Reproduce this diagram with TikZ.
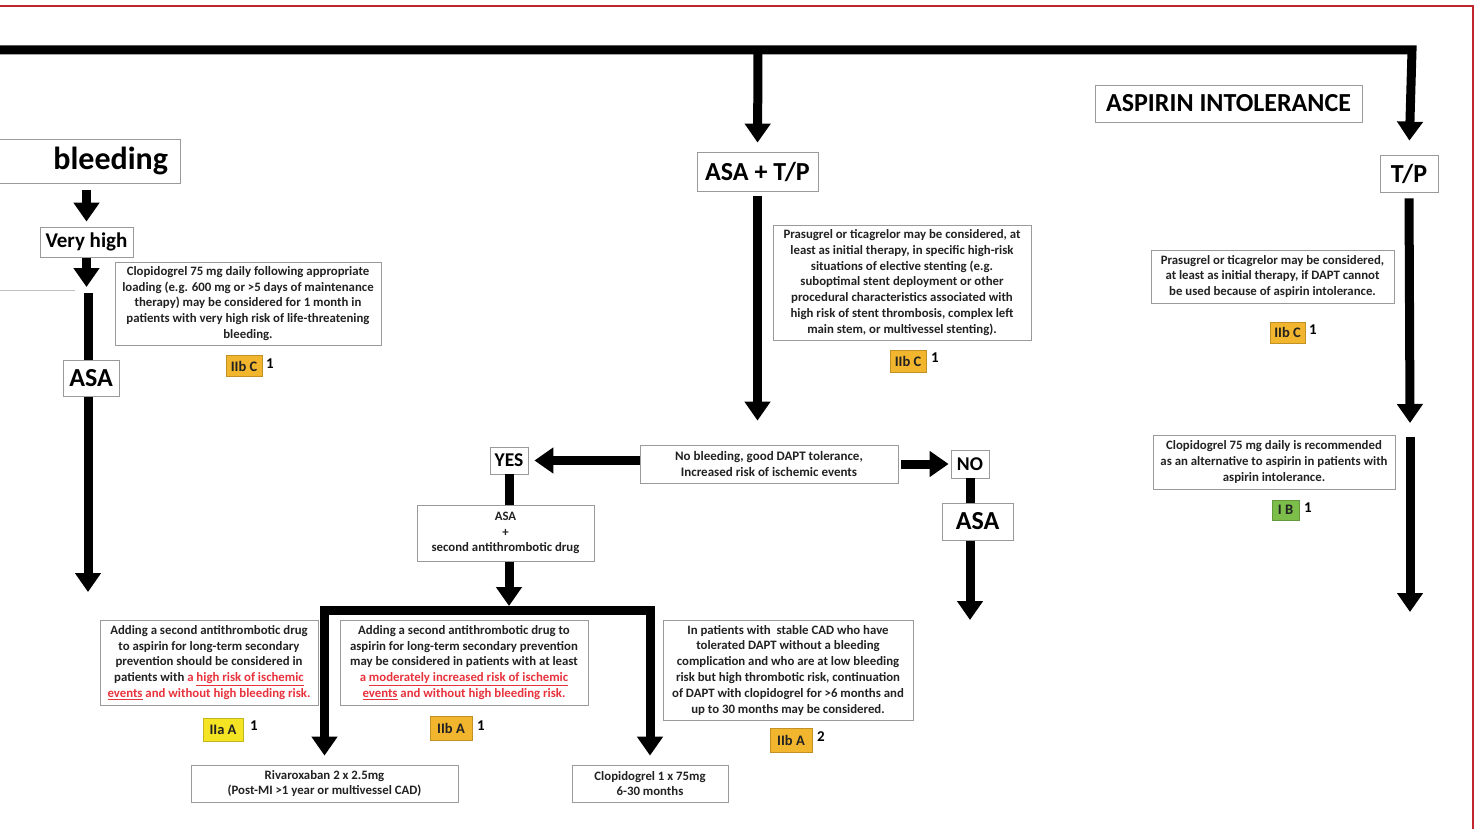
\documentclass[tikz,border=0pt]{standalone}
\usepackage{fontspec}
\setmainfont{Carlito}
\usetikzlibrary{arrows.meta,calc}
\definecolor{boxgray}{HTML}{9A9A9A}
\definecolor{txt}{HTML}{222222}
\definecolor{redtxt}{HTML}{E8333D}
\definecolor{frame}{HTML}{C0272D}
\definecolor{gold}{HTML}{F2B52E}
\definecolor{yel}{HTML}{F4E424}
\definecolor{grn}{HTML}{7DBE4B}
\newcommand{\rd}[1]{\textcolor{redtxt}{#1}}
\tikzset{
  sbox/.style={draw=boxgray, line width=0.8pt, fill=white, align=center, text=txt,
    font=\bfseries\fontsize{12.8}{15.8}\selectfont, inner sep=1pt},
  bbox/.style={draw=boxgray, line width=0.8pt, fill=white, align=center, text=black,
    font=\bfseries\fontsize{26}{30}\selectfont, inner sep=1pt},
  mbox/.style={draw=boxgray, line width=0.8pt, fill=white, align=center, text=black,
    font=\bfseries\fontsize{19.5}{22}\selectfont, inner sep=1pt},
  badge/.style={fill=#1, draw=#1!80!black, line width=0.4pt, text=txt, inner sep=1pt,
    font=\bfseries\fontsize{14.5}{16}\selectfont},
  refnum/.style={text=black, inner sep=0pt, font=\bfseries\fontsize{15}{16}\selectfont},
  arr/.style={line width=9pt, line join=miter, -{Triangle[width=25pt,length=19pt]}},
}
\begin{document}
\begin{tikzpicture}[x=1pt,y=-1pt]
\useasboundingbox (0,0) rectangle (1479,829);
\fill[white] (0,0) rectangle (1479,829);
% red frame
\coordinate (f1) at (0,6);
\coordinate (f2) at (1473,6);
\coordinate (f3) at (1473,829);
\draw[frame, line width=1.5pt] (f1) -- (f2) -- (f3);

% ---------- nodes ----------
\node[bbox, font=\bfseries\fontsize{32}{36}\selectfont, minimum width=190pt, minimum height=44pt,
      text width=178pt, align=right, inner ysep=4pt] (bleed) at (85,161) {bleeding\hspace*{6pt}};
\node[mbox, font=\bfseries\fontsize{21}{24}\selectfont, minimum width=93pt, minimum height=30pt] (vh) at (86.5,242) {Very high};
\node[sbox, minimum width=266pt, minimum height=83pt] (clop1) at (248,303.5) {Clopidogrel 75 mg daily following appropriate\\
loading (e.g. 600 mg or >5 days of maintenance\\
therapy) may be considered for 1 month in\\
patients with very high risk of life-threatening\\
bleeding.};
\node[badge=gold, minimum width=36pt, minimum height=21pt] (b1) at (244,366) {IIb C};
\node[refnum, anchor=west] (n1) at (266,364) {1};

\node[bbox, minimum width=121pt, minimum height=39pt] (att) at (757.5,171.5) {ASA + T/P};
\node[sbox, minimum width=258pt, minimum height=115pt] (prasm) at (902,282.5) {Prasugrel or ticagrelor may be considered, at\\
least as initial therapy, in specific high-risk\\
situations of elective stenting (e.g.\\
suboptimal stent deployment or other\\
procedural characteristics associated with\\
high risk of stent thrombosis, complex left\\
main stem, or multivessel stenting).};
\node[badge=gold, minimum width=36pt, minimum height=22pt] (b2) at (908,361) {IIb C};
\node[refnum, anchor=west] (n2) at (931,358) {1};

\node[bbox, font=\bfseries\fontsize{26}{28}\selectfont, minimum width=267pt, minimum height=37pt] (ai) at (1228.5,103.5) {ASPIRIN INTOLERANCE};
\node[bbox, minimum width=58pt, minimum height=37pt] (tp) at (1409,173.5) {T/P};
\node[sbox, minimum width=243pt, minimum height=53pt] (prasr) at (1272.5,276.5) {Prasugrel or ticagrelor may be considered,\\
at least as initial therapy, if DAPT cannot\\
be used because of aspirin intolerance.};
\node[badge=gold, minimum width=35pt, minimum height=21pt] (b3) at (1287.5,332.5) {IIb C};
\node[refnum, anchor=west] (n3) at (1309,330) {1};
\node[sbox, minimum width=242pt, minimum height=54pt] (clopr) at (1274,462) {Clopidogrel 75 mg daily is recommended\\
as an alternative to aspirin in patients with\\
aspirin intolerance.};
\node[badge=grn, minimum width=27pt, minimum height=20pt] (b4) at (1285.5,510) {I B};
\node[refnum, anchor=west] (n4) at (1304,508) {1};

\node[sbox, font=\bfseries\fontsize{13}{16}\selectfont, minimum width=258pt, minimum height=38pt] (nb) at (769,464) {No bleeding, good DAPT tolerance,\\
Increased risk of ischemic events};
\node[mbox, minimum width=38pt, minimum height=27pt] (yes) at (509,460.5) {YES};
\node[mbox, minimum width=38pt, minimum height=28pt] (no) at (970,464) {NO};

\node[sbox, minimum width=218pt, minimum height=85pt] (add1) at (209,662.5) {Adding a second antithrombotic drug\\
to aspirin for long-term secondary\\
prevention should be considered in\\
patients with \rd{a \underline{high risk of ischemic}}\\
\rd{\underline{events} and without high bleeding risk.}};
\node[badge=yel, minimum width=40pt, minimum height=23pt] (b5) at (223,729.5) {IIa A};
\node[refnum, anchor=west] (n5) at (250,726) {1};
\node[sbox, minimum width=248pt, minimum height=85pt] (add2) at (464,662.5) {Adding a second antithrombotic drug to\\
aspirin for long-term secondary prevention\\
may be considered in patients with at least\\
\rd{a \underline{moderately increased risk of ischemic}}\\
\rd{\underline{events} and without high bleeding risk.}};
\node[badge=gold, minimum width=42pt, minimum height=24pt] (b6) at (451,728) {IIb A};
\node[refnum, anchor=west] (n6) at (477,726) {1};
\node[sbox, minimum width=250pt, minimum height=100pt] (inp) at (788,670) {In patients with\ \ stable CAD who have\\
tolerated DAPT without a bleeding\\
complication and who are at low bleeding\\
risk but high thrombotic risk, continuation\\
of DAPT with clopidogrel for >6 months and\\
up to 30 months may be considered.};
\node[badge=gold, minimum width=42pt, minimum height=24pt] (b7) at (791,740) {IIb A};
\node[refnum, anchor=west] (n7) at (817,737) {2};

% ---------- coordinates ----------
\coordinate (t0) at (0,50);
\coordinate (tm) at (758,50);
\coordinate (tr) at (1412,50);
\coordinate (g1) at (0,290);
\coordinate (g2) at (75,290);
\coordinate (l1) at (88,293);
\coordinate (l2) at (88,592);
\coordinate (r1) at (1410,423);
\coordinate (r2) at (1410,437);
\coordinate (r3) at (1410,612);
\coordinate (nod) at (970,620);
\coordinate (bar) at (509,610);

% top bar
\draw[arr, shorten >=14pt] (t0) -- (tr) -- (tp.north);
\draw[arr, shorten >=9pt] (tm) -- (att.north);
% left column
\draw[arr, shorten <=7pt, shorten >=5pt] (bleed.south -| vh.north) -- (vh.north);
\draw[arr, shorten <=1pt, shorten >=3pt] (vh.south) -- (vh.south |- g1);
\draw[line width=0.8pt, gray!50] (g1) -- (g2);
\draw[arr] (l1) -- (l2);
\node[bbox, minimum width=56pt, minimum height=36pt] (asa1) at (91,378) {ASA};
% middle column
\draw[arr, shorten <=5pt, shorten >=24pt] (att.south) -- (att.south |- nb.north);
\draw[arr, shorten >=6pt] (nb.west |- yes.east) -- (yes.east);
\draw[arr, shorten <=3pt, shorten >=2pt] (nb.east) -- (no.west);
\draw[arr] (no.south) -- (nod);
\node[bbox, minimum width=71pt, minimum height=37pt] (asa2) at (977.5,521.5) {ASA};
\draw[arr, shorten >=4pt] (yes.south) -- (bar);
\node[sbox, minimum width=177pt, minimum height=56pt] (asa2nd) at (505.5,533) {ASA\\+\\second antithrombotic drug};
% branch bar
\node[sbox, minimum width=267pt, minimum height=37pt] (riv) at (324.5,783.5) {Rivaroxaban 2 x 2.5mg\\(Post-MI >1 year or multivessel CAD)};
\node[sbox, minimum width=156pt, minimum height=37pt] (clop2) at (650,783.5) {Clopidogrel 1 x 75mg\\6-30 months};
\draw[arr, shorten >=9pt] (bar) -- (bar -| riv.north) -- (riv.north);
\draw[arr, shorten >=9pt] (bar) -- (bar -| clop2.north) -- (clop2.north);
% right column
\draw[arr, shorten <=6pt] (tp.south) -- (r1);
\draw[arr] (r2) -- (r3);
\end{tikzpicture}
\end{document}
